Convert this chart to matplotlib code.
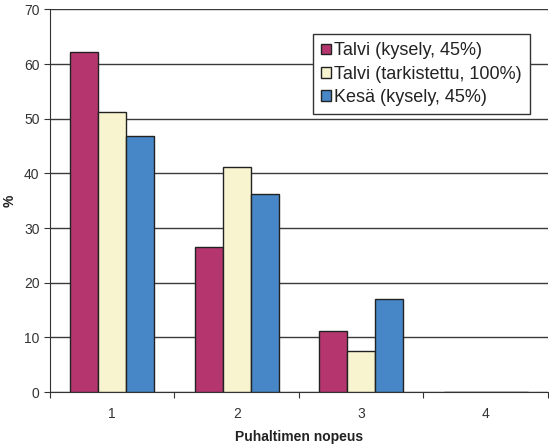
import numpy as np
import matplotlib.pyplot as plt

plt.rcParams["font.family"] = ["Liberation Sans", "DejaVu Sans"]

# =========================
# Data
# =========================
categories = ["1", "2", "3", "4"]
series_names = ["Talvi (kysely, 45%)", "Talvi (tarkistettu, 100%)", "Kesä (kysely, 45%)"]
talvi_kysely = [62.2, 26.6, 11.1, 0.0]
talvi_tarkistettu = [51.2, 41.2, 7.5, 0.0]
kesa_kysely = [46.8, 36.2, 17.0, 0.0]

colors = ["#B5366F", "#F8F4D0", "#4787C7"]

# =========================
# Figure
# =========================
fig = plt.figure(figsize=(5.49, 4.45), dpi=100)
ax = fig.add_axes([0.091, 0.119, 0.907, 0.860])

x = np.arange(len(categories)) + 0.5
width = 0.225
series = [talvi_kysely, talvi_tarkistettu, kesa_kysely]

for i, (vals, name, col) in enumerate(zip(series, series_names, colors)):
    heights = np.array(vals)
    ax.bar(x + (i - 1) * width, heights, width, color=col, edgecolor="#222222",
           linewidth=1.0, label=name, zorder=3)

ax.set_xlim(0, 4)
ax.set_ylim(0, 70)
ax.set_yticks(np.arange(0, 71, 10))
ax.yaxis.grid(True, color="#3a3a3a", linewidth=1.0, zorder=0)

# category boundaries as ticks, labels at centers
ax.set_xticks(np.arange(0, 5))
ax.set_xticklabels([])
ax.set_xticks(x, minor=True)
ax.set_xticklabels(categories, minor=True)
ax.tick_params(axis="x", which="major", length=4, color="#333333", direction="out")
ax.tick_params(axis="x", which="minor", length=0, pad=11, labelsize=10, labelcolor="#333333")
ax.tick_params(axis="y", length=4, color="#333333", labelsize=10, labelcolor="#333333")

for side in ["top", "right"]:
    ax.spines[side].set_visible(False)
ax.spines["left"].set_color("#333333")
ax.spines["bottom"].set_color("#333333")

ax.set_xlabel("Puhaltimen nopeus", fontsize=10, fontweight="bold", color="#222222", labelpad=6)
ax.set_ylabel("%", fontsize=10, fontweight="bold", color="#222222", labelpad=5)

leg = ax.legend(loc="upper right", bbox_to_anchor=(0.964, 0.935), fontsize=13,
                frameon=True, fancybox=False, handlelength=0.55, handleheight=0.55,
                handletextpad=0.2, borderpad=0.45, labelspacing=0.35,
                borderaxespad=0)
leg.get_frame().set_edgecolor("#333333")
leg.get_frame().set_linewidth(1.0)
leg.get_frame().set_alpha(1.0)
for t in leg.get_texts():
    t.set_color("#222222")

plt.savefig("out.png", dpi=100)
plt.close()
